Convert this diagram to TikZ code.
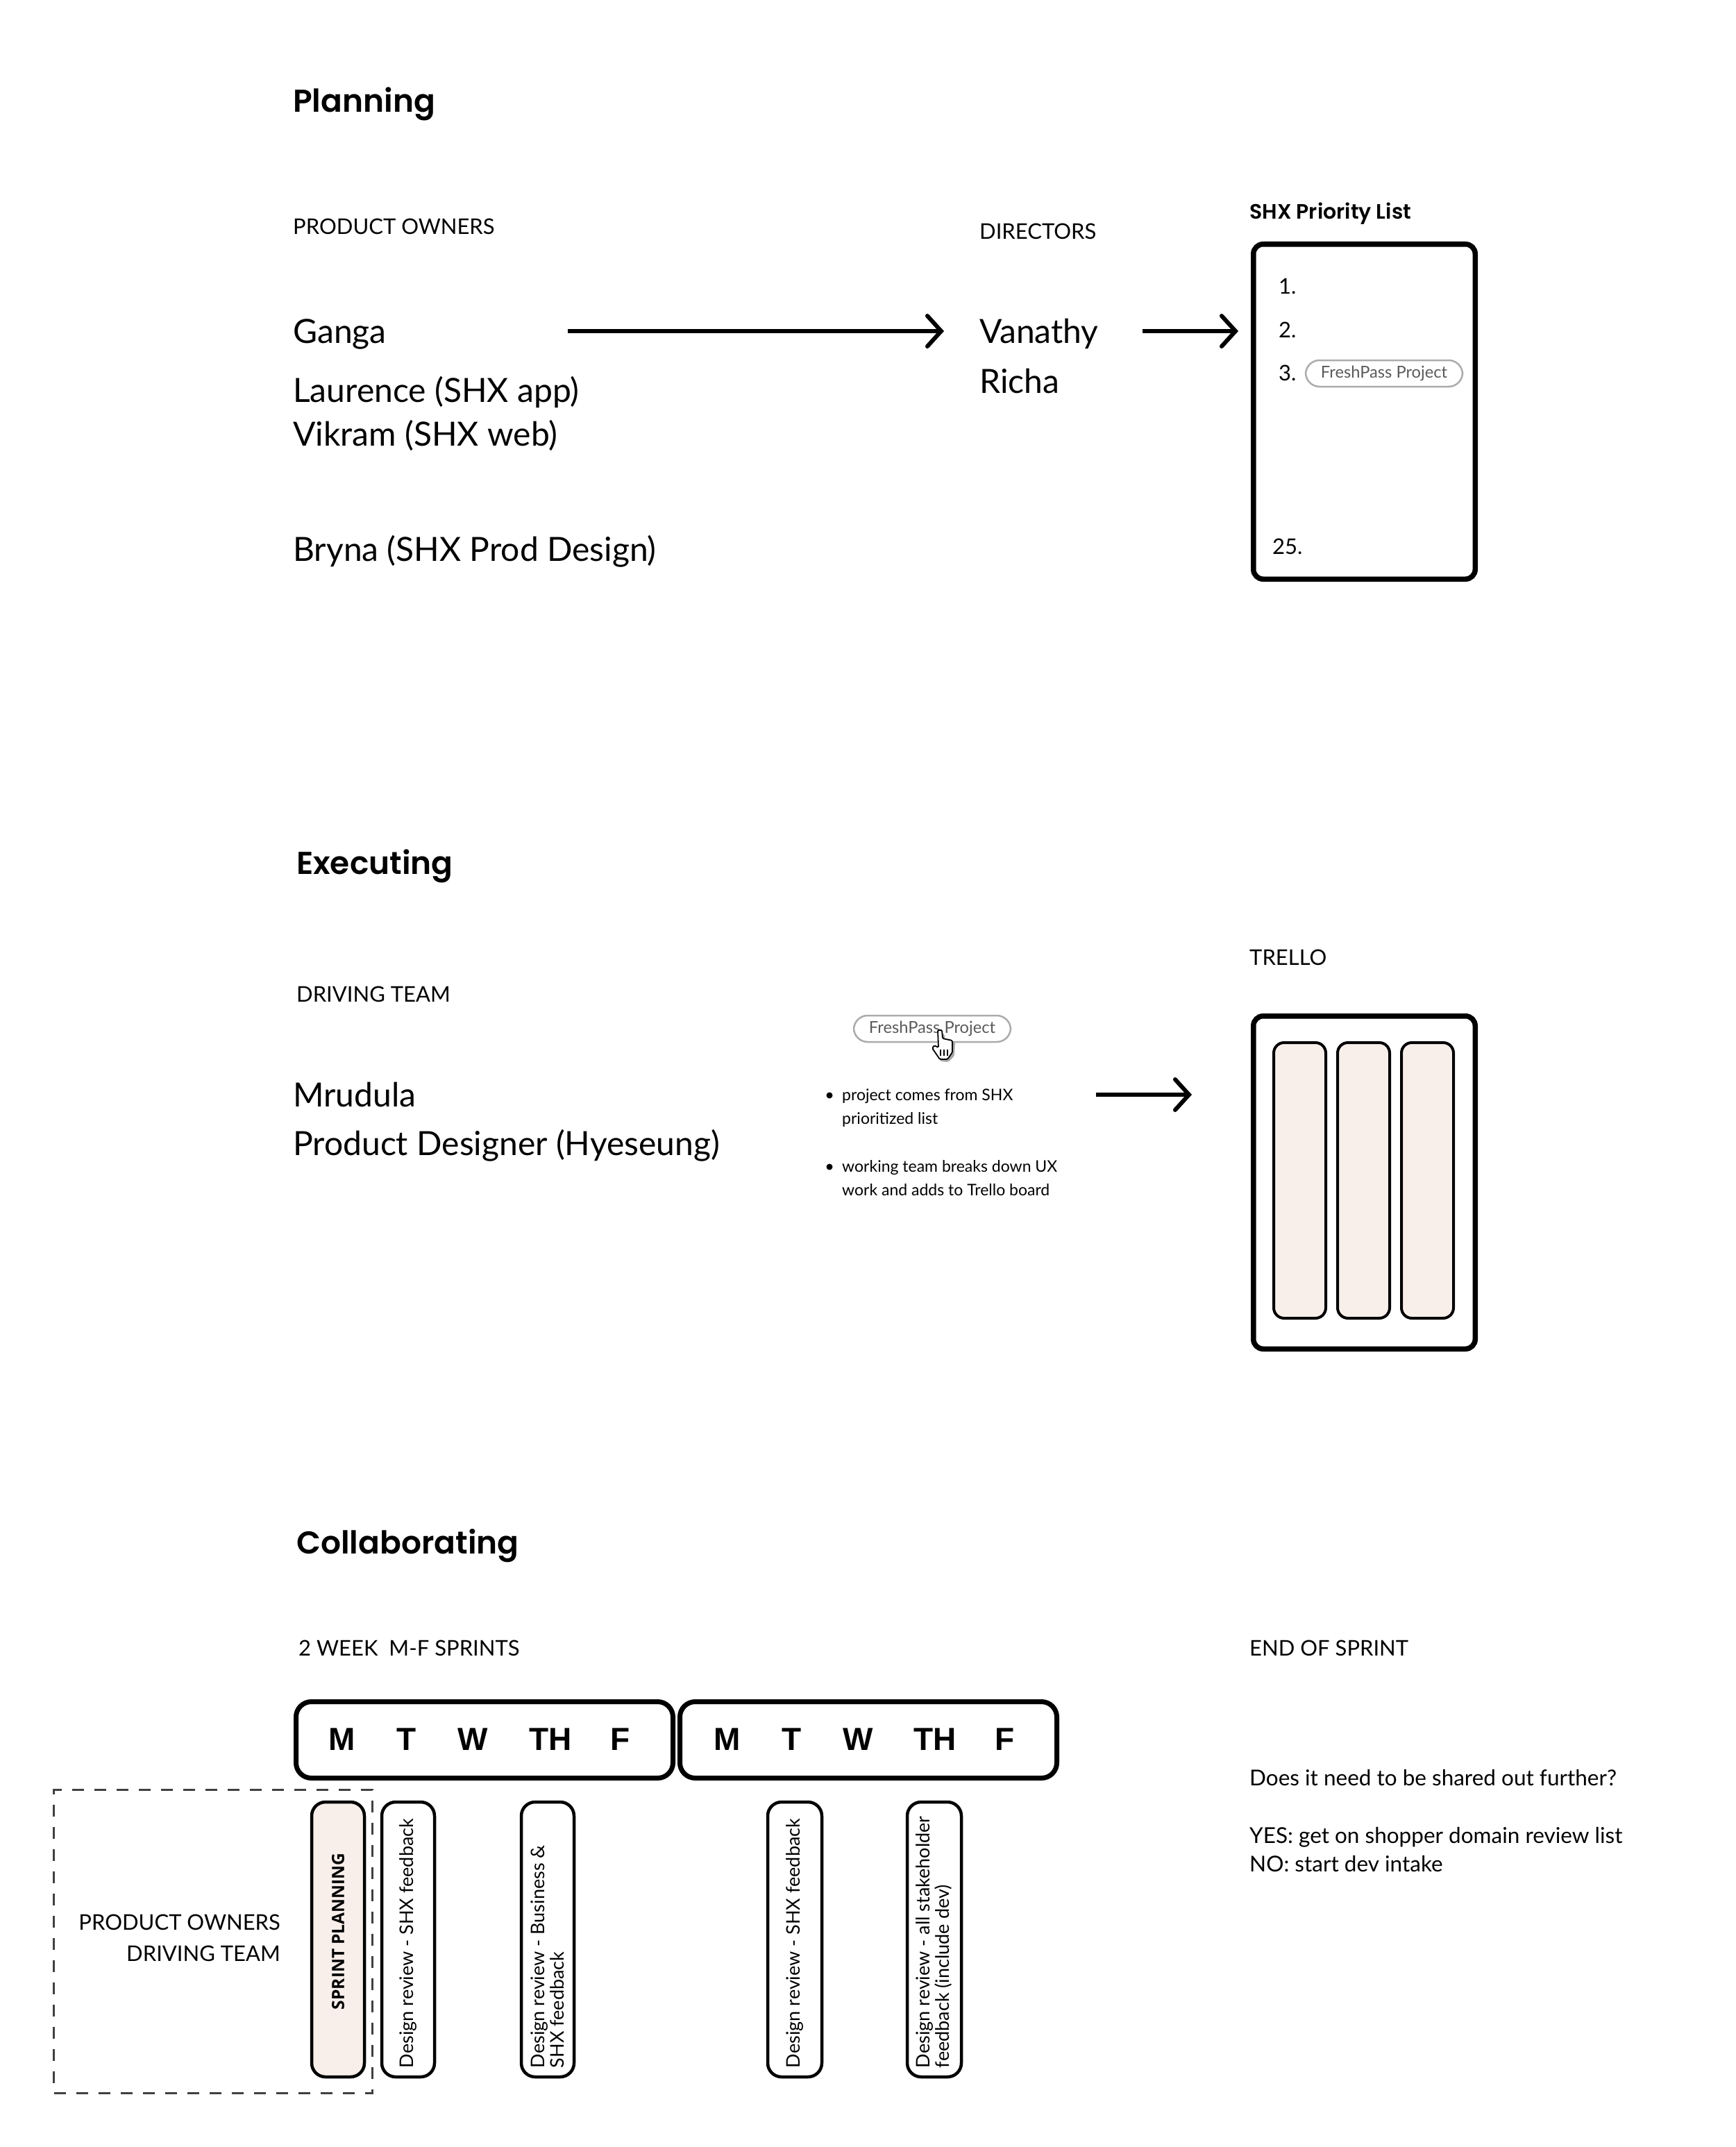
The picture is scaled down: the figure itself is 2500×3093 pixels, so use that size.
\documentclass[tikz,border=0pt]{standalone}
\usepackage{fontspec}
\setmainfont{Lato}
\newfontfamily\titlefont{Poppins SemiBold}
\newfontfamily\dayfont{Liberation Sans}
\newfontfamily\railfont{Open Sans}
\usetikzlibrary{arrows.meta,positioning,calc}
\definecolor{blush}{HTML}{F8EEEA}
\definecolor{pillgray}{HTML}{ABABAB}
\definecolor{pilltext}{HTML}{5A5A5A}

\begin{document}
\begin{tikzpicture}[
    x=1pt, y=-1pt,
    heading/.style = {anchor=west, inner sep=0pt, text height=32pt, text depth=0pt, font=\titlefont\fontsize{45.5}{54}\selectfont},
    caption/.style = {anchor=west, inner sep=0pt, font=\fontsize{31}{38}\selectfont},
    person/.style = {anchor=west, inner sep=0pt, text height=34pt, text depth=0pt, font=\fontsize{48}{58}\selectfont},
    rank/.style = {anchor=west, inner sep=0pt, font=\fontsize{31}{38}\selectfont},
    note/.style = {anchor=west, inner sep=0pt, align=left, font=\fontsize{23}{34.5}\selectfont},
    board/.style = {draw, line width=7.5pt, rounded corners=14pt, anchor=north west, inner sep=0pt, minimum width=319.5pt},
    week/.style = {draw, line width=7pt, rounded corners=22pt, anchor=north west, inner sep=0pt, minimum width=543pt, minimum height=110pt},
    day/.style = {inner sep=0pt, font=\dayfont\bfseries\fontsize{46}{56}\selectfont},
    pill/.style = {draw=pillgray, line width=2.5pt, rounded corners=20pt, text=pilltext, inner sep=0pt, minimum width=226pt, minimum height=38pt, font=\fontsize{23.7}{30}\selectfont},
    lane/.style = {draw, line width=4pt, fill=blush, rounded corners=15pt, anchor=north west, inner sep=0pt, minimum width=75pt, minimum height=397pt},
    rail/.style = {draw, line width=4.5pt, rounded corners=20pt, rotate=90, inner xsep=13pt, inner ysep=0pt, minimum width=396pt, minimum height=76pt, text width=370pt, align=flush left, font=\fontsize{27}{28}\selectfont},
    flow/.style = {draw, line width=6pt, -{Straight Barb[length=20pt,width=44pt,line cap=round]}},
    dot/.style = {circle, fill, inner sep=0pt, minimum size=9pt}
]
    % Planning
    \node [heading] (planning) at (422,146) {Planning};
    \node [caption] (owners) at (422,326) {PRODUCT OWNERS};
    \node [person] (ganga) at (422,477) {Ganga};
    \node [person] (laurence) at (422,562) {Laurence (SHX app)};
    \node [person] (vikram) at (422,625) {Vikram (SHX web)};
    \node [person] (bryna) at (422,791) {Bryna (SHX Prod Design)};
    \node [caption] (directors) at (1411,333) {DIRECTORS};
    \node [person] (vanathy) at (1411,477) {Vanathy};
    \node [person] (richa) at (1411,549) {Richa};
    \node [anchor=west, inner sep=0pt, font=\titlefont\fontsize{30}{36}\selectfont] (listtitle) at (1800,308) {SHX Priority List};
    \node [board, minimum height=482.5pt] (list) at (1802,348) {};
    \node [rank] (one) at (1842,412) {1.};
    \node [rank] (two) at (1842,475) {2.};
    \node [rank] (three) at (1842,537) {3.};
    \node [rank] (last) at (1833,787) {25.};
    \node [pill] (listpill) at (1994,538) {FreshPass Project};

    % Executing
    \node [heading] (executing) at (427,1243) {Executing};
    \node [caption] (driving) at (427,1432) {DRIVING TEAM};
    \node [person] (mrudula) at (422,1577) {Mrudula};
    \node [person] (designer) at (422,1647) {Product Designer (Hyeseung)};
    \node [pill] (boardpill) at (1343,1482) {FreshPass Project};
    \node [dot] (dota) at (1195,1578) {};
    \node [dot] (dotb) at (1195,1681) {};
    \node [note] (notea) at (1213,1596) {project comes from SHX\\prioritized list};
    \node [note] (noteb) at (1213,1697) {working team breaks down UX\\work and adds to Trello board};
    \node [caption] (trellotitle) at (1800,1379) {TRELLO};
    \node [board, minimum height=479.5pt] (trello) at (1802,1460) {};
    \node [lane] (lanea) at (1833,1500) {};
    \node [lane, right=13pt of lanea] (laneb) {};
    \node [lane, right=13pt of laneb] (lanec) {};

    % cursor
    \fill [black!35, rounded corners=2pt] (1353,1487) -- (1361,1490) -- (1361,1498) -- (1376,1501) -- (1375,1521) -- (1366,1530) -- (1355,1529) -- (1345,1512) -- (1356,1510) -- cycle;
    \filldraw [fill=white, line width=1.8pt, rounded corners=1.5pt] (1351,1484) -- (1357,1484) -- (1358,1496) -- (1372,1499) -- (1372,1516) -- (1365,1526) -- (1354,1526) -- (1343,1510) -- (1346,1506) -- (1352,1509) -- cycle;
    \draw [line width=1.5pt] (1355,1512) -- (1355,1521) (1360,1512) -- (1360,1521) (1365,1512) -- (1365,1521);

    % Collaborating
    \node [heading] (collaborating) at (427,2222) {Collaborating};
    \node [caption] (sprints) at (430,2374) {2 WEEK\ \ M-F SPRINTS};
    \node [caption] (endsprint) at (1800,2374) {END OF SPRINT};
    \node [week] (weeka) at (423,2448) {};
    \node [week, right=3pt of weeka] (weekb) {};
    \node [day] (ma) at (493,2506) {M};
    \node [day] (ta) at (586,2506) {T};
    \node [day] (wa) at (681,2506) {W};
    \node [day] (tha) at (793,2506) {TH};
    \node [day] (fa) at (894,2506) {F};
    \node [day] (mb) at (1048,2506) {M};
    \node [day] (tb) at (1141,2506) {T};
    \node [day] (wb) at (1236,2506) {W};
    \node [day] (thb) at (1347,2506) {TH};
    \node [day] (fb) at (1448,2506) {F};
    \node [draw=black!75, line width=3pt, dash pattern=on 17pt off 15pt, anchor=north west, inner sep=0pt, minimum width=459pt, minimum height=437pt] (crew) at (76,2577) {};
    \node [anchor=east, inner sep=0pt, align=right, font=\fontsize{31}{45}\selectfont] (crewnames) at (404,2792) {PRODUCT OWNERS\\DRIVING TEAM};
    \node [rail, fill=blush, font=\railfont\bfseries\fontsize{24.5}{28}\selectfont] (planbox) at (487,2794) {\hspace*{84pt}SPRINT PLANNING};
    \node [rail] (reviewa) at (588,2794) {Design review - SHX feedback};
    \node [rail] (reviewb) at (789,2794) {Design review - Business \&\\SHX feedback};
    \node [rail, minimum height=78pt] (reviewc) at (1145,2794) {Design review - SHX feedback};
    \node [rail, minimum height=78pt] (reviewd) at (1346,2794) {Design review - all stakeholder\\feedback (include dev)};
    \node [anchor=north west, inner sep=0pt, align=left, font=\fontsize{31.5}{41.5}\selectfont] (shareout) at (1800,2549) {Does it need to be shared out further?\\[41.5pt]YES: get on shopper domain review list\\NO: start dev intake};

    % Edges
    \draw [flow, shorten <=261pt, shorten >=51pt] (ganga.east) -- (ganga.east -| vanathy.west);
    \draw [flow, shorten <=63pt, shorten >=18pt] (vanathy.east) -- (vanathy.east -| list.west);
    \draw [flow, shorten <=119pt, shorten >=85pt] ([yshift=19pt]notea.east) -- ([yshift=19pt]notea.east -| trello.west);

    \useasboundingbox (0,0) rectangle (2500,3093);
\end{tikzpicture}
\end{document}
